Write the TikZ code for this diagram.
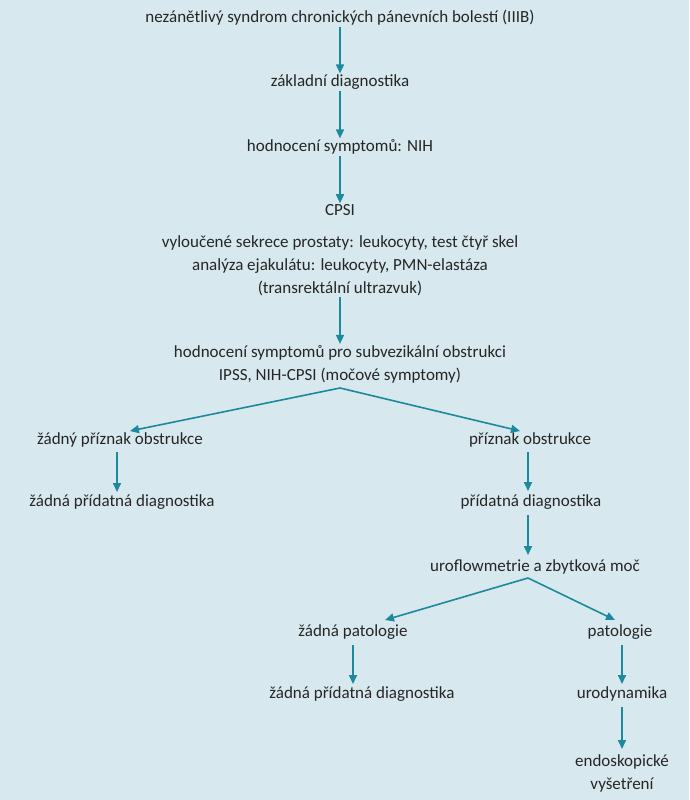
\documentclass[tikz,border=0pt]{standalone}
\usepackage{fontspec}
\setmainfont{Carlito}
\usetikzlibrary{arrows.meta}
\definecolor{bg}{HTML}{D7E8EE}
\definecolor{ar}{HTML}{1C8A9C}
\begin{document}
\begin{tikzpicture}[x=1pt,y=-1pt,
 t/.style={inner sep=1pt,font=\fontsize{17}{23}\selectfont,text=black!85,align=center},
 a/.style={draw=ar,line width=1.6pt,-{Triangle[length=9pt,width=8pt]}}]
\fill[bg] (0,0) rectangle (689,800);
\useasboundingbox (0,0) rectangle (689,800);
\node[t] (n1) at (340,18) {nezánětlivý syndrom chronických pánevních bolestí (IIIB)};
\node[t] (n2) at (340,82) {základní diagnostika};
\node[t] (n3) at (340,147) {hodnocení symptomů: NIH};
\node[t] (n4) at (340,210) {CPSI};
\node[t] (n4b) at (340,266) {vyloučené sekrece prostaty: leukocyty, test čtyř skel\\analýza ejakulátu: leukocyty, PMN-elastáza\\(transrektální ultrazvuk)};
\node[t] (n5) at (340,364) {hodnocení symptomů pro subvezikální obstrukci\\IPSS, NIH-CPSI (močové symptomy)};
\node[t] (l1) at (120,440) {žádný příznak obstrukce};
\node[t] (l2) at (122,502) {žádná přídatná diagnostika};
\node[t] (r1) at (530,440) {příznak obstrukce};
\node[t] (r2) at (531,502) {přídatná diagnostika};
\node[t] (r3) at (535,567) {uroflowmetrie a zbytková moč};
\node[t] (p1) at (353,632) {žádná patologie};
\node[t] (p2) at (362,694) {žádná přídatná diagnostika};
\node[t] (q1) at (620,632) {patologie};
\node[t] (q2) at (622,694) {urodynamika};
\node[t] (q3) at (622,773) {endoskopické\\vyšetření};
\coordinate (s5) at (340,388);
\coordinate (s3) at (528,578);
\draw[a] (n1.south) -- (n2.north);
\draw[a] (n2.south) -- (n3.north);
\draw[a] (n3.south) -- (n4.north);
\draw[a] (n4b.south) -- (n5.north);
\draw[a] (s5) -- (130,431);
\draw[a] (s5) -- (520,431);
\draw[a] (117,452) -- (117,492);
\draw[a] (528,452) -- (528,491);
\draw[a] (528,515) -- (528,555);
\draw[a] (s3) -- (385,620);
\draw[a] (s3) -- (615,620);
\draw[a] (353,645) -- (353,684);
\draw[a] (622,645) -- (622,684);
\draw[a] (622,707) -- (622,749);
\end{tikzpicture}
\end{document}
